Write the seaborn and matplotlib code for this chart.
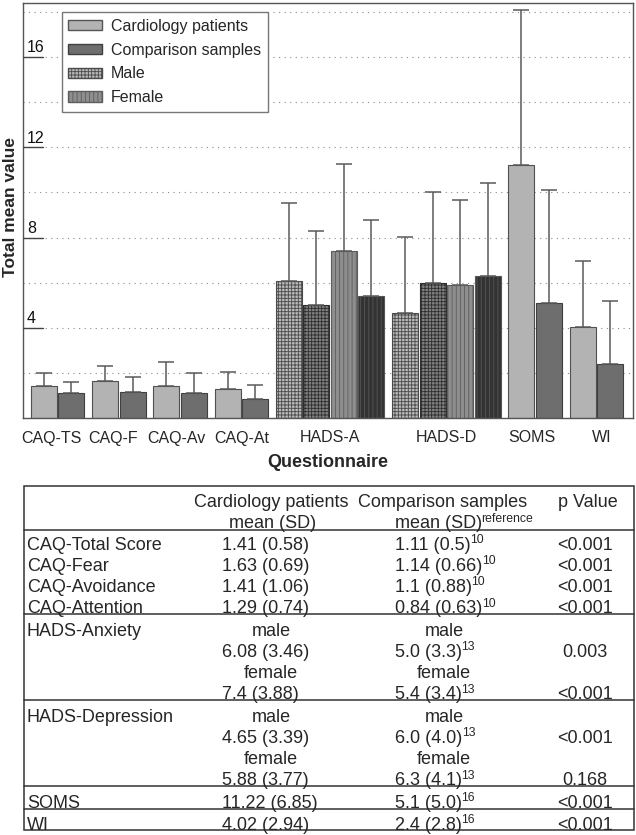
import numpy as np
import pandas as pd
import matplotlib
matplotlib.use("Agg")
import matplotlib.pyplot as plt
from matplotlib.patches import Patch, Rectangle
import seaborn as sns

# bars, in drawing order (each consecutive pair = patients / comparison)
bar_group = ["CAQ-TS", "CAQ-TS", "CAQ-F", "CAQ-F", "CAQ-Av", "CAQ-Av", "CAQ-At", "CAQ-At",
             "HADS-A", "HADS-A", "HADS-A", "HADS-A", "HADS-D", "HADS-D", "HADS-D", "HADS-D",
             "SOMS", "SOMS", "WI", "WI"]
bar_kind = (["patients", "comparison"] * 4
            + ["male patients", "male comparison", "female patients", "female comparison"] * 2
            + ["patients", "comparison"] * 2)
bar_mean = [1.41, 1.11, 1.63, 1.14, 1.41, 1.1, 1.29, 0.84,
            6.08, 5.0, 7.4, 5.4, 4.65, 6.0, 5.88, 6.3,
            11.22, 5.1, 4.02, 2.4]
bar_sd = [0.58, 0.5, 0.69, 0.66, 1.06, 0.88, 0.74, 0.63,
          3.46, 3.3, 3.88, 3.4, 3.39, 4.0, 3.77, 4.1,
          6.85, 5.0, 2.94, 2.8]

groups = ["CAQ-TS", "CAQ-F", "CAQ-Av", "CAQ-At", "HADS-A", "HADS-D", "SOMS", "WI"]
label_shift = [-0.24, -0.2, -0.15, 0.03, 0.0, 0.0, -0.1, 0.2]

# table texts
row_names = ["CAQ-Total Score", "CAQ-Fear", "CAQ-Avoidance", "CAQ-Attention",
             "HADS-Anxiety", "HADS-Depression", "SOMS", "WI"]
group_ref = ["10", "10", "10", "10", "13", "13", "16", "16"]
pair_p = ["<0.001", "<0.001", "<0.001", "<0.001", "0.003", "<0.001",
          "<0.001", "0.168", "<0.001", "<0.001"]

kind_style = {
    "patients": dict(fc="#b3b3b3", ec="#505050", hatch=None),
    "comparison": dict(fc="#6e6e6e", ec="#404040", hatch=None),
    "male patients": dict(fc="#b8b8b8", ec="#4a4a4a", hatch="+++++"),
    "male comparison": dict(fc="#808080", ec="#2e2e2e", hatch="+++++"),
    "female patients": dict(fc="#8e8e8e", ec="#5c5c5c", hatch="||||"),
    "female comparison": dict(fc="#333333", ec="#555555", hatch="||||"),
}

sns.set_style("white")
plt.rcParams["font.family"] = ["Liberation Sans", "DejaVu Sans"]
plt.rcParams["hatch.linewidth"] = 0.6

# x positions: one slot per bar, small extra gap between questionnaires
pos = []
gi = -1
prev = None
for i, g in enumerate(bar_group):
    if g != prev:
        gi += 1
        prev = g
    pos.append(i + 0.225 * gi)
df = pd.DataFrame({"pos": pos, "mean": bar_mean, "sd": bar_sd, "kind": bar_kind, "group": bar_group})

fig = plt.figure(figsize=(6.36, 8.35), dpi=100)
ax = fig.add_axes([22.7 / 636, 1 - 418 / 835, 610.3 / 636, 415 / 835])

sns.barplot(data=df, x="pos", y="mean", native_scale=True, width=0.945,
            errorbar=None, color="#b3b3b3", ax=ax, zorder=2)
for bar, kind in zip(ax.patches, df["kind"]):
    st = kind_style[kind]
    bar.set_facecolor(st["fc"])
    bar.set_edgecolor(st["ec"])
    bar.set_linewidth(0.8)
    if st["hatch"]:
        bar.set_hatch(st["hatch"])

ax.errorbar(df["pos"], df["mean"], yerr=[np.zeros(len(df)), df["sd"]], fmt="none",
            ecolor="#5a5a5a", elinewidth=1.1, capsize=5.5, capthick=1.1, zorder=3)

ax.set_xlim(-0.772, 21.41)
ax.set_ylim(0, 18.4)
ax.set_yticks(np.arange(0, 19, 2))
ax.yaxis.grid(True, linestyle=(0, (1, 4)), color="#8a8a8a", linewidth=0.8)
ax.set_axisbelow(True)
ax.tick_params(axis="y", length=0, labelleft=False)
for s in ax.spines.values():
    s.set_color("#555555")
    s.set_linewidth(1.0)

# y tick labels sit inside the axes, above a short tick line
for v in [4, 8, 12, 16]:
    ax.plot([0, 0.034], [v, v], color="#444444", lw=1.0, transform=ax.get_yaxis_transform(), zorder=4)
    ax.text(0.007, v + 0.08, str(v), transform=ax.get_yaxis_transform(),
            ha="left", va="bottom", fontsize=11.5, color="#111111")

centers = df.groupby("group", sort=False)["pos"].mean().reindex(groups).values
ax.set_xticks(centers + np.array(label_shift))
ax.set_xticklabels(groups, fontsize=11.5)
ax.tick_params(axis="x", length=0, pad=9)
ax.set_xlabel("Questionnaire", fontsize=13, fontweight="bold", labelpad=6)
ax.set_ylabel("")
fig.text(15 / 636, 1 - 207 / 835, "Total mean value", rotation=90, rotation_mode="anchor",
         ha="center", va="baseline", fontsize=12.5, fontweight="bold")

handles = [
    Patch(facecolor=kind_style["patients"]["fc"], edgecolor="#555555", label="Cardiology patients"),
    Patch(facecolor=kind_style["comparison"]["fc"], edgecolor="#404040", label="Comparison samples"),
    Patch(facecolor=kind_style["male patients"]["fc"], edgecolor="#4a4a4a", hatch="+++++", label="Male"),
    Patch(facecolor=kind_style["female patients"]["fc"], edgecolor="#5c5c5c", hatch="||||", label="Female"),
]
leg = ax.legend(handles=handles, loc="upper left", bbox_to_anchor=(0.064, 0.978), fontsize=11.5,
                frameon=True, fancybox=False, edgecolor="#777777", framealpha=1,
                handlelength=2.1, handleheight=0.62, handletextpad=0.55,
                labelspacing=0.55, borderpad=0.42, borderaxespad=0)
leg.get_frame().set_linewidth(1.0)

# table below the chart, drawn in pixel coordinates
tax = fig.add_axes([0, 0, 1, 1], zorder=-1)
tax.set_xlim(0, 636)
tax.set_ylim(835, 0)
tax.axis("off")
fs = 13
renderer = fig.canvas.get_renderer()


def text_sup(x, y, main, sup):
    # main text left-aligned at x, with a small raised reference number after it
    t = tax.text(x, y, main, ha="left", va="baseline", fontsize=fs)
    bb = t.get_window_extent(renderer)
    x_end = tax.transData.inverted().transform((bb.x1, bb.y0))[0]
    tax.text(x_end - 0.5, y - 6.5, sup, ha="left", va="baseline", fontsize=8.8)


tax.add_patch(Rectangle((24, 486), 610, 344, fill=False, edgecolor="#333333", lw=1.1))
tax.text(271, 507, "Cardiology patients", ha="center", va="baseline", fontsize=fs)
tax.text(443, 507, "Comparison samples", ha="center", va="baseline", fontsize=fs)
tax.text(588, 507, "p Value", ha="center", va="baseline", fontsize=fs)
tax.text(273, 528, "mean (SD)", ha="center", va="baseline", fontsize=fs)
text_sup(395, 528, "mean (SD)", "reference")
tax.plot([24, 634], [530, 530], color="#333333", lw=1.1)

lines = []  # (label, patients text, comparison text, reference, p, centered)
k = 0
for gname, rname, ref in zip(groups, row_names, group_ref):
    idx = [i for i, g in enumerate(bar_group) if g == gname]
    if len(idx) == 2:
        i = idx[0]
        lines.append((rname, f"{bar_mean[i]} ({bar_sd[i]})",
                      f"{bar_mean[i + 1]} ({bar_sd[i + 1]})", ref, pair_p[k], False))
        k += 1
    else:
        for j, sex in enumerate(["male", "female"]):
            i = idx[2 * j]
            lines.append((rname if j == 0 else "", sex, sex, "", "", True))
            lines.append(("", f"{bar_mean[i]} ({bar_sd[i]})",
                          f"{bar_mean[i + 1]} ({bar_sd[i + 1]})", ref, pair_p[k], False))
            k += 1

sep_after = [3, 7, 11, 12]
nsep = 0
for r, (lab, pt, cp, ref, pv, centered) in enumerate(lines):
    yb = 549.5 + 21.2 * r + 1.2 * nsep
    tax.text(27, yb, lab, ha="left", va="baseline", fontsize=fs)
    if centered:
        tax.text(271, yb, pt, ha="center", va="baseline", fontsize=fs)
        tax.text(444, yb, cp, ha="center", va="baseline", fontsize=fs)
    else:
        tax.text(222, yb, pt, ha="left", va="baseline", fontsize=fs)
        text_sup(395, yb, cp, ref)
    tax.text(585, yb, pv, ha="center", va="baseline", fontsize=fs)
    if r in sep_after:
        tax.plot([24, 634], [yb + 1, yb + 1], color="#333333", lw=1.1)
        nsep += 1

fig.savefig("out.png", dpi=100)
